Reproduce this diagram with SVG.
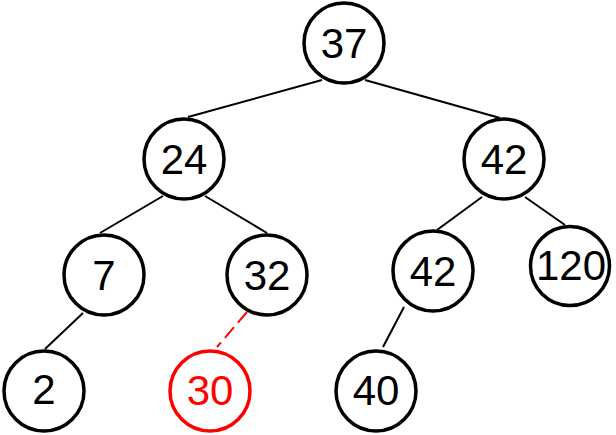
<svg xmlns="http://www.w3.org/2000/svg" width="616" height="435" viewBox="0 0 616 435">
<style>
.node circle{fill:#fff;stroke:#000;stroke-width:3.5}
.node text{font-family:"Liberation Sans",Arial,sans-serif;font-size:42px;text-anchor:middle;fill:#000}
.node.red circle{stroke:#f00}
.node.red text{fill:#f00}
.edges line{stroke:#000;stroke-width:2}
.edges line.dash{stroke:#f00;stroke-dasharray:14 6}
</style>
<rect width="616" height="435" fill="#fff"/>
<g class="edges">
<line x1="322" y1="80" x2="188" y2="117"/>
<line x1="365" y1="80" x2="500" y2="118"/>
<line x1="163" y1="196" x2="100" y2="233"/>
<line x1="205" y1="196" x2="267" y2="233"/>
<line x1="482" y1="197" x2="437" y2="230"/>
<line x1="525" y1="197" x2="565" y2="225"/>
<line x1="83" y1="313" x2="45" y2="349"/>
<line class="dash" x1="247" y1="312" x2="217" y2="347"/>
<line x1="404" y1="307" x2="383" y2="347"/>
</g>
<g id="n37" class="node"><circle cx="344" cy="43" r="40"/><text x="344" y="58">37</text></g>
<g id="n24" class="node"><circle cx="184" cy="159" r="40"/><text x="184" y="174">24</text></g>
<g id="n42r" class="node"><circle cx="504" cy="159" r="40"/><text x="504" y="174">42</text></g>
<g id="n7" class="node"><circle cx="104" cy="275" r="40"/><text x="104" y="290">7</text></g>
<g id="n32" class="node"><circle cx="267" cy="275" r="40"/><text x="267" y="290">32</text></g>
<g id="n42m" class="node"><circle cx="433" cy="271" r="40"/><text x="433" y="286">42</text></g>
<g id="n120" class="node"><circle cx="570" cy="266" r="39.5"/><text x="571" y="280">120</text></g>
<g id="n2" class="node"><circle cx="44" cy="391" r="40"/><text x="44" y="404">2</text></g>
<g id="n30" class="node red"><circle cx="210" cy="391" r="40"/><text x="210" y="405">30</text></g>
<g id="n40" class="node"><circle cx="376" cy="391" r="40"/><text x="376" y="405">40</text></g>
</svg>
